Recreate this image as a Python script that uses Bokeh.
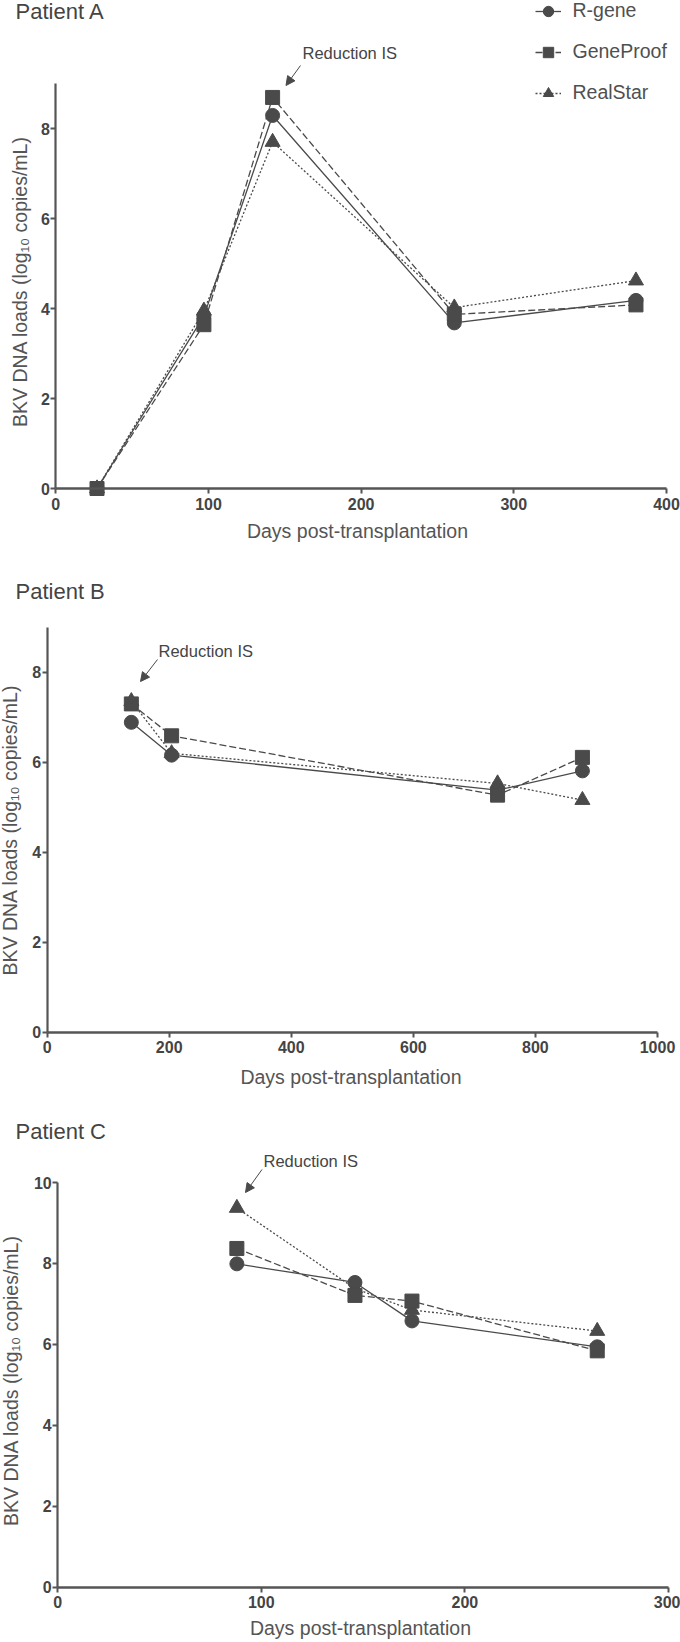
import math
from bokeh.plotting import figure
from bokeh.models import (Range1d, FixedTicker, Label, Arrow, NormalHead,
                          Legend, LegendItem)
from bokeh.layouts import column
from bokeh.embed import file_html
from bokeh.resources import INLINE

# ---------------- data ----------------
series = ["R-gene", "GeneProof", "RealStar"]

a_days = [27, 97, 142, 261, 380]
a_rgene = [0.0, 3.83, 8.29, 3.68, 4.18]
a_geneproof = [0.0, 3.64, 8.69, 3.87, 4.08]
a_realstar = [0.0, 3.95, 7.70, 4.02, 4.62]

b_days = [138, 204, 738, 877]
b_rgene = [6.89, 6.16, 5.38, 5.81]
b_geneproof = [7.30, 6.59, 5.27, 6.11]
b_realstar = [7.36, 6.20, 5.53, 5.16]

c_days = [88, 146, 174, 265]
c_rgene = [7.99, 7.53, 6.58, 5.94]
c_geneproof = [8.37, 7.21, 7.07, 5.84]
c_realstar = [9.37, 7.38, 6.85, 6.33]

x_ticks_a = [0, 100, 200, 300, 400]
y_ticks_a = [0, 2, 4, 6, 8]
x_ticks_b = [0, 200, 400, 600, 800, 1000]
y_ticks_b = [0, 2, 4, 6, 8]
x_ticks_c = [0, 100, 200, 300]
y_ticks_c = [0, 2, 4, 6, 8, 10]

titles = ["Patient A", "Patient B", "Patient C"]
note_text = "Reduction IS"
x_label = "Days post-transplantation"
y_label = "BKV DNA loads (log\u2081\u2080 copies/mL)"

# ---------------- style / layout ----------------
FONT = "Liberation Sans"
INK = "#4a4a4a"
AXIS = "#555555"
TICK_TXT = "#444444"
LABEL_TXT = "#555555"
MARKERS = {"R-gene": "circle", "GeneProof": "square", "RealStar": "triangle"}
MSIZE = {"R-gene": 14, "GeneProof": 14, "RealStar": 15}
DASHES = {"R-gene": "solid", "GeneProof": "7 3", "RealStar": "2 2"}
DRAW_ORDER = ["RealStar", "R-gene", "GeneProof"]
CW = 680


def style_axis(ax, ticks, bounds, standoff, width):
    ax.ticker = FixedTicker(ticks=ticks, minor_ticks=[])
    ax.bounds = bounds
    ax.fixed_location = 0
    ax.axis_label = None
    ax.axis_line_color = AXIS
    ax.axis_line_width = width
    ax.major_tick_line_color = AXIS
    ax.major_tick_line_width = 2
    ax.major_tick_in = 0
    ax.major_tick_out = 5
    ax.minor_tick_in = 0
    ax.minor_tick_out = 0
    ax.major_label_standoff = standoff
    ax.major_label_text_font = FONT
    ax.major_label_text_font_style = "bold"
    ax.major_label_text_font_size = "16px"
    ax.major_label_text_color = TICK_TXT


def make_panel(title, days, vals, xmax, ymax, xticks, yticks, geom, texts,
               with_legend=False):
    top, height = geom["top"], geom["height"]
    x0px, x1px, y0px, y1px = geom["x0px"], geom["x1px"], geom["y0px"], geom["y1px"]
    sx = (x1px - x0px) / xmax
    sy = (y0px - y1px) / ymax

    def dx(px):
        return (px - x0px) / sx

    def dy(py):
        return (y0px - py) / sy

    p = figure(width=CW, height=height,
               x_range=Range1d(dx(0), dx(CW)),
               y_range=Range1d(dy(top + height), dy(top)),
               output_backend="svg", toolbar_location=None,
               min_border=0, min_border_left=0, min_border_right=0,
               min_border_top=0, min_border_bottom=0,
               background_fill_color="white", border_fill_color="white",
               outline_line_color=None)
    p.grid.visible = False

    style_axis(p.yaxis[0], yticks, (0, ymax), 1, 2.2)
    style_axis(p.xaxis[0], xticks, (0, xmax), 4, 2.6)

    rends = {}
    for name in DRAW_ORDER:
        rends[name] = [p.line(days, vals[name], line_color=INK, line_width=1.3,
                              line_dash=DASHES[name])]
    for name in DRAW_ORDER:
        rends[name].append(p.scatter(days, vals[name], marker=MARKERS[name],
                                     size=MSIZE[name], fill_color=INK,
                                     line_color=INK))

    tx, ty = texts["title"]
    p.add_layout(Label(x=dx(tx), y=dy(ty), text=title, text_font=FONT,
                       text_font_size="22px", text_color="#444444",
                       text_baseline="alphabetic", text_align="left"))
    nx, ny = texts["note"]
    p.add_layout(Label(x=dx(nx), y=dy(ny), text=note_text, text_font=FONT,
                       text_font_size="16.5px", text_color="#444444",
                       text_baseline="alphabetic", text_align="left"))
    (ax0, ay0), (ax1, ay1) = texts["arrow"]
    p.add_layout(Arrow(end=NormalHead(size=9, fill_color=INK, line_color=INK),
                       x_start=dx(ax0), y_start=dy(ay0),
                       x_end=dx(ax1), y_end=dy(ay1),
                       line_color=INK, line_width=1))
    lx, ly = texts["xlabel"]
    p.add_layout(Label(x=dx(lx), y=dy(ly), text=x_label, text_font=FONT,
                       text_font_size="19.5px", text_color=LABEL_TXT,
                       text_baseline="alphabetic", text_align="center"))
    vx, vy = texts["ylabel"]
    p.add_layout(Label(x=dx(vx), y=dy(vy), text=y_label, text_font=FONT,
                       text_font_size="19.5px", text_color=LABEL_TXT,
                       text_baseline="middle", text_align="center",
                       angle=90, angle_units="deg"))

    if with_legend:
        gx, gy = texts["legend"]  # page px of top-left of legend box
        gh, gw, gap = 28, 26, 13
        leg_h = 3 * gh + 2 * gap
        items = [LegendItem(label=n, renderers=rends[n]) for n in series]
        leg = Legend(items=items, location=(gx, (top + height) - (gy + leg_h)),
                     glyph_width=gw, glyph_height=gh, spacing=gap,
                     label_standoff=12, padding=0, margin=0,
                     border_line_color=None, background_fill_alpha=0,
                     label_text_font=FONT, label_text_font_size="19.5px",
                     label_text_color="#505050")
        p.add_layout(leg)
    return p


GEOM_A = dict(top=0, height=560, x0px=55.3, x1px=666.0, y0px=488.0, y1px=83.0)
GEOM_B = dict(top=560, height=540, x0px=46.6, x1px=657.0, y0px=1031.5, y1px=627.0)
GEOM_C = dict(top=1100, height=540, x0px=57.2, x1px=668.0, y0px=1586.7, y1px=1182.0)

TEXT_A = dict(title=(15, 11), note=(302, 52), arrow=((300, 65), (285.5, 85)),
              xlabel=(357, 530), ylabel=(19, 281), legend=(534.5, -3.5))
TEXT_B = dict(title=(15, 591), note=(158, 650), arrow=((157, 659), (140, 681)),
              xlabel=(350.5, 1076), ylabel=(9, 829.5))
TEXT_C = dict(title=(15, 1131), note=(263, 1160), arrow=((261.5, 1169), (245, 1192)),
              xlabel=(360, 1627), ylabel=(10, 1380))

pA = make_panel(titles[0], a_days,
                {"R-gene": a_rgene, "GeneProof": a_geneproof, "RealStar": a_realstar},
                400, 9, x_ticks_a, y_ticks_a, GEOM_A, TEXT_A, with_legend=True)
pB = make_panel(titles[1], b_days,
                {"R-gene": b_rgene, "GeneProof": b_geneproof, "RealStar": b_realstar},
                1000, 9, x_ticks_b, y_ticks_b, GEOM_B, TEXT_B)
pC = make_panel(titles[2], c_days,
                {"R-gene": c_rgene, "GeneProof": c_geneproof, "RealStar": c_realstar},
                300, 10, x_ticks_c, y_ticks_c, GEOM_C, TEXT_C)

layout = column(pA, pB, pC, spacing=0)

open("out.html", "w").write(file_html(layout, INLINE))
